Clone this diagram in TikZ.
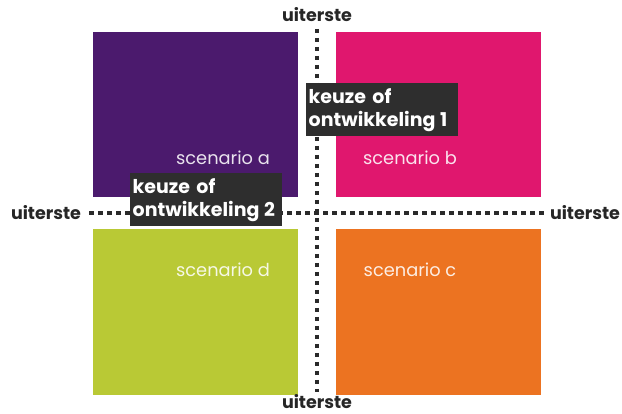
\documentclass[tikz,border=0pt]{standalone}
\usepackage{fontspec}
\setmainfont{Poppins}
\definecolor{cpurple}{HTML}{4B1A6D}
\definecolor{cpink}{HTML}{E0176E}
\definecolor{cgreen}{HTML}{B9C935}
\definecolor{corange}{HTML}{EC7321}
\definecolor{cdark}{HTML}{2E2E2E}
\definecolor{cdot}{HTML}{2A2A2A}
\tikzset{
  quad/.style={inner sep=0pt, outer sep=0pt, anchor=north west},
  scen/.style={text=white, text opacity=0.88, font=\fontsize{17.8}{20}\selectfont},
  ends/.style={font=\bfseries\fontsize{17.5}{20}\selectfont, text=black!85, inner sep=0.5pt},
  keuze/.style={fill=cdark, text=white, font=\bfseries\fontsize{19}{23}\selectfont, align=left, inner xsep=2.5pt, inner ysep=0pt, minimum width=152pt, minimum height=53pt, text width=147pt},
  dotline/.style={draw=cdot, line width=4.5pt, dash pattern=on 4.5pt off 4.5pt}
}
\begin{document}
\begin{tikzpicture}[x=1pt,y=-1pt]
\useasboundingbox (0,0) rectangle (622,414);
\fill[white] (0,0) rectangle (622,414);
\node[quad, fill=cpurple, minimum width=205pt, minimum height=165pt] (qa) at (93,32) {};
\node[quad, fill=cpink, minimum width=205pt, minimum height=165pt] (qb) at (336,32) {};
\node[quad, fill=cgreen, minimum width=205pt, minimum height=166pt] (qd) at (93,229) {};
\node[quad, fill=corange, minimum width=205pt, minimum height=166pt] (qc) at (336,229) {};
\node[scen] (sa) at (223,158) {scenario a};
\node[scen] (sb) at (410,158) {scenario b};
\node[scen] (sd) at (223,270) {scenario d};
\node[scen] (sc) at (410,270) {scenario c};
\node[ends] (top) at (317,15) {uiterste};
\node[ends] (bot) at (317,402) {uiterste};
\node[ends] (lft) at (46,213) {uiterste};
\node[ends] (rgt) at (585,213) {uiterste};
\coordinate (vt) at (317,29);
\coordinate (vb) at (317,392);
\coordinate (hl) at (89,213);
\coordinate (hr) at (548,213);
\draw[dotline] (vt) -- (vb);
\draw[dotline] (hl) -- (hr);
\node[keuze, anchor=north west] (k1) at (306,83) {keuze of\\ontwikkeling\kern0.25em1};
\node[keuze, anchor=north west] (k2) at (130,173) {keuze of\\ontwikkeling\kern0.25em2};
\end{tikzpicture}
\end{document}
